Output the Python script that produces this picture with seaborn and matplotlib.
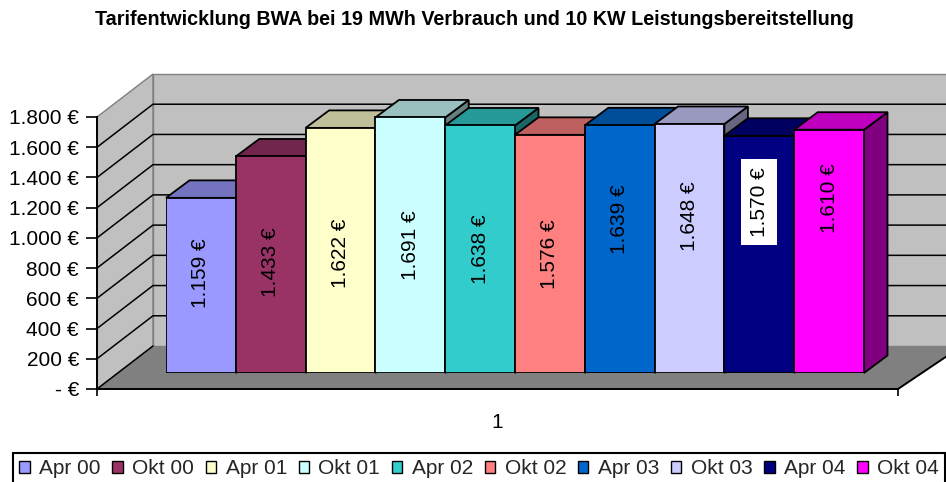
import matplotlib
matplotlib.use('Agg')  # no display in the sandbox
import matplotlib.pyplot as plt
import seaborn as sns
import pandas as pd
from matplotlib.patches import Polygon, Patch
from matplotlib.colors import to_rgb

# --- data ---
periods = ['Apr 00', 'Okt 00', 'Apr 01', 'Okt 01', 'Apr 02',
           'Okt 02', 'Apr 03', 'Okt 03', 'Apr 04', 'Okt 04']
costs = [1159, 1433, 1622, 1691, 1638, 1576, 1639, 1648, 1570, 1610]
bar_colors = ['#9999FF', '#993366', '#FFFFCC', '#CCFFFF', '#33CCCC',
              '#FF8080', '#0066CC', '#CCCCFF', '#000080', '#FF00FF']
y_ticks = [0, 200, 400, 600, 800, 1000, 1200, 1400, 1600, 1800]
category_label = '1'
title = 'Tarifentwicklung BWA bei 19 MWh Verbrauch und 10 KW Leistungsbereitstellung'

# data labels were dragged around by hand in the original (fraction of bar height)
label_height = [0.57, 0.51, 0.49, 0.50, 0.50, 0.50, 0.62, 0.63, 0.72, 0.72]

W, H = 946, 482
YMAX = 1800
UNITS_PER_PX = YMAX / 272.0


def euro(v):
    return '- €' if v == 0 else f'{v:,} €'.replace(',', '.')


def rect(left, top, right, bottom):
    # pixel box (origin top-left) -> figure fraction
    return [left / W, 1 - bottom / H, (right - left) / W, (bottom - top) / H]


def shade(color, k):
    return tuple(k * c for c in to_rgb(color))


sns.set_theme(style='white')
plt.rcParams['font.family'] = ['Liberation Sans', 'DejaVu Sans']
FS = 15

fig = plt.figure(figsize=(W / 100, H / 100), dpi=100)
fig.patch.set_facecolor('white')

# --- walls + floor, drawn in the front plane of the chart ---
ax_bg = fig.add_axes(rect(97, 117, 898, 389))
x0, x1 = 97, 898
ax_bg.set_xlim(x0, x1)
ax_bg.set_ylim(0, YMAX)
ax_bg.patch.set_visible(False)

dxl, dxr = 56, 64           # depth of the floor (slight perspective)
dy = 43 * UNITS_PER_PX

floor = Polygon([(x0, 0), (x1, 0), (x1 + dxr, dy), (x0 + dxl, dy)],
                fc='#808080', ec='none', clip_on=False, zorder=1)
side = Polygon([(x0, 0), (x0 + dxl, dy), (x0 + dxl, YMAX + dy), (x0, YMAX)],
               fc='#C0C0C0', ec='#808080', lw=1, clip_on=False, zorder=1)
back = Polygon([(x0 + dxl, dy), (x1 + dxr, dy), (x1 + dxr, YMAX + dy), (x0 + dxl, YMAX + dy)],
               fc='#C0C0C0', ec='#808080', lw=1, clip_on=False, zorder=1)
for p in (floor, side, back):
    ax_bg.add_patch(p)

# gridlines across side and back wall
for v in y_ticks[:-1]:
    if v == 0:
        ax_bg.plot([x0, x0 + dxl], [0, dy], color='black', lw=1.1, clip_on=False, zorder=2)
    else:
        ax_bg.plot([x0, x0 + dxl, x1 + dxr], [v, v + dy, v + dy],
                   color='black', lw=1.1, clip_on=False, zorder=2)
ax_bg.plot([x1, x1 + dxr], [0, dy], color='black', lw=1.4, clip_on=False, zorder=2)

for s in ('top', 'right'):
    ax_bg.spines[s].set_visible(False)
for s in ('left', 'bottom'):
    ax_bg.spines[s].set_color('black')
    ax_bg.spines[s].set_linewidth(1.4)
    ax_bg.spines[s].set_zorder(2.5)

ax_bg.set_yticks(y_ticks, [euro(v) for v in y_ticks])
ax_bg.tick_params(axis='y', left=True, length=8, width=1.2, color='black',
                  pad=5, labelsize=FS, labelcolor='black')
ax_bg.set_xticks([(x0 + x1) / 2], [category_label])
ax_bg.set_xticks([x0, x1], minor=True)
ax_bg.tick_params(axis='x', which='major', bottom=True, length=0, pad=17,
                  labelsize=FS, labelcolor='black')
ax_bg.tick_params(axis='x', which='minor', bottom=True, length=5, width=1.2, color='black')

# --- the columns, on a plane a bit behind the front edge ---
ax = fig.add_axes(rect(166, 373 - 272, 864, 373))
ax.patch.set_visible(False)
df = pd.DataFrame({'period': periods, 'cost': costs})
sns.barplot(data=df, x='period', y='cost', hue='period', palette=bar_colors,
            width=1, saturation=1, edgecolor='black', linewidth=1.3,
            legend=False, ax=ax)
ax.set_xlim(-0.5, len(periods) - 0.5)
ax.set_ylim(0, YMAX)
ax.axis('off')

bdx = 23.5 / 69.8           # column depth, category units
bdy = 17.5 * UNITS_PER_PX

for i, p in enumerate(ax.patches):
    left, w, h = p.get_x(), p.get_width(), p.get_height()
    z = 3 + 3 * i
    ax.add_patch(Polygon([(left + w, 0), (left + w + bdx, bdy), (left + w + bdx, h + bdy), (left + w, h)],
                         fc=shade(bar_colors[i], 0.5), ec='black', lw=1.3, clip_on=False, zorder=z))
    ax.add_patch(Polygon([(left, h), (left + w, h), (left + w + bdx, h + bdy), (left + bdx, h + bdy)],
                         fc=shade(bar_colors[i], 0.75), ec='black', lw=1.3, clip_on=False, zorder=z))
    p.set_zorder(z + 1)
    box = None
    if sum(to_rgb(bar_colors[i])) < 0.6:   # too dark for black text
        box = dict(boxstyle='square,pad=0.4', fc='white', ec='none')
    ax.text(left + w / 2, h * label_height[i], euro(costs[i]), rotation=90,
            ha='center', va='center', fontsize=FS, color='black', bbox=box, zorder=z + 2)

# --- title + legend ---
fig.text(474 / W, 1 - 19.5 / H, title, ha='center', va='center',
         fontsize=14.2, fontweight='bold', color='black')

handles = [Patch(facecolor=c, edgecolor='black', linewidth=1) for c in bar_colors]
leg = fig.legend(handles, periods, ncol=len(periods), loc='upper left',
                 bbox_to_anchor=(13 / W, 1 - 453 / H, 932 / W, 0.0), mode='expand',
                 borderaxespad=0, fontsize=FS, handlelength=0.5, handleheight=0.5,
                 handletextpad=0.45, borderpad=0.3, frameon=True, fancybox=False,
                 edgecolor='black', framealpha=1)
leg.get_frame().set_linewidth(1.5)

fig.savefig('out.png', dpi=100, facecolor='white')
